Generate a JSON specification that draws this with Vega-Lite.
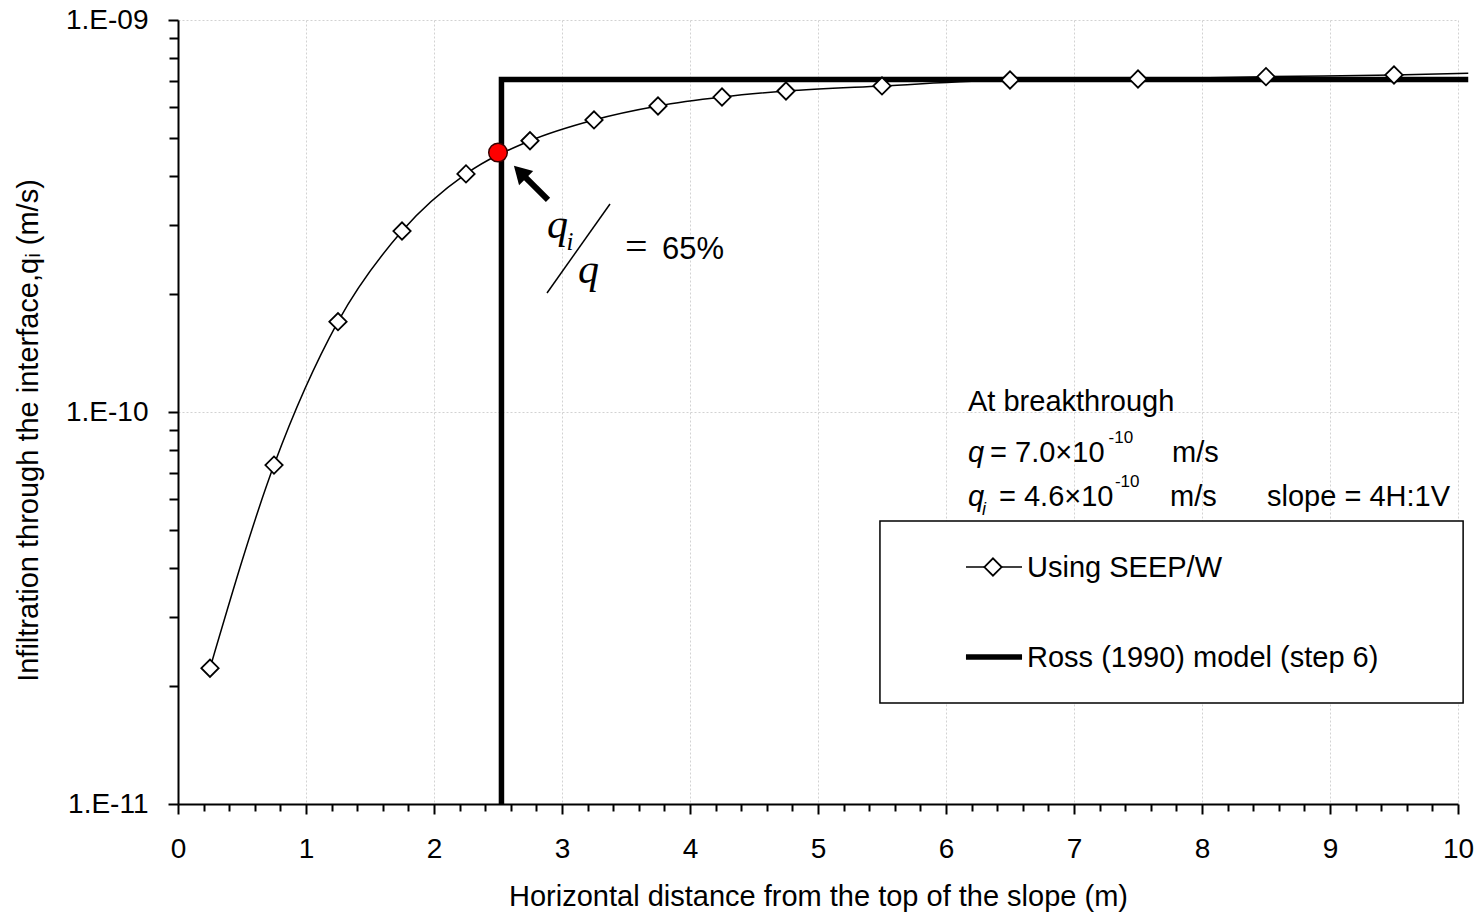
{
  "$schema": "https://vega.github.io/schema/vega-lite/v6.json",
  "width": 1280,
  "height": 784,
  "autosize": {"type": "none"},
  "padding": {"left": 178, "top": 20, "right": 21, "bottom": 114},
  "background": "white",
  "config": {"view": {"stroke": null}, "font": "Liberation Sans"},
  "datasets": {
    "seep": [
      {"x": 0.25, "q": 2.22e-11}, {"x": 0.75, "q": 7.32e-11}, {"x": 1.25, "q": 1.70e-10},
      {"x": 1.75, "q": 2.895e-10}, {"x": 2.25, "q": 4.05e-10}, {"x": 2.75, "q": 4.92e-10},
      {"x": 3.25, "q": 5.56e-10}, {"x": 3.75, "q": 6.035e-10}, {"x": 4.25, "q": 6.36e-10},
      {"x": 4.75, "q": 6.59e-10}, {"x": 5.5, "q": 6.79e-10}, {"x": 6.5, "q": 7.03e-10},
      {"x": 7.5, "q": 7.07e-10}, {"x": 8.5, "q": 7.17e-10}, {"x": 9.5, "q": 7.24e-10},
      {"x": 10.08, "q": 7.31e-10}
    ],
    "ross": [
      {"x": 2.527, "q": 1e-11, "o": 1}, {"x": 2.527, "q": 7.05e-10, "o": 2}, {"x": 10.08, "q": 7.05e-10, "o": 3}
    ],
    "red": [{"x": 2.5, "q": 4.59e-10}],
    "box": [{"x": 5.484, "x2": 10.04, "q": 1.81e-11, "q2": 5.27e-11}],
    "legSeep": [{"x": 6.156, "q": 4.023e-11}, {"x": 6.594, "q": 4.023e-11}],
    "legSeepPt": [{"x": 6.367, "q": 4.023e-11}],
    "legRoss": [{"x": 6.156, "q": 2.371e-11}, {"x": 6.594, "q": 2.371e-11}],
    "arrowShaft": [{"x": 2.8906, "q": 3.475e-10, "x2": 2.695, "q2": 4.025e-10}],
    "arrowHead": [{"x": 2.672, "q": 4.096e-10}],
    "slash": [{"x": 2.883, "q": 2.012e-10, "x2": 3.375, "q2": 3.394e-10}],
    "txtSans": [
      {"x": 6.172, "q": 1.0059e-10, "t": "At breakthrough"},
      {"x": 6.344, "q": 7.455e-11, "t": "= 7.0×10"},
      {"x": 7.766, "q": 7.455e-11, "t": "m/s"},
      {"x": 6.414, "q": 5.757e-11, "t": "= 4.6×10"},
      {"x": 7.75, "q": 5.757e-11, "t": "m/s"},
      {"x": 8.508, "q": 5.757e-11, "t": "slope = 4H:1V"},
      {"x": 6.633, "q": 3.794e-11, "t": "Using SEEP/W"},
      {"x": 6.633, "q": 2.237e-11, "t": "Ross (1990) model (step 6)"}
    ],
    "txtItal": [
      {"x": 6.172, "q": 7.455e-11, "t": "q"},
      {"x": 6.172, "q": 5.757e-11, "t": "q"}
    ],
    "txtSup": [
      {"x": 7.27, "q": 8.335e-11, "t": "-10"},
      {"x": 7.32, "q": 6.436e-11, "t": "-10"}
    ],
    "txtSub": [{"x": 6.281, "q": 5.461e-11, "t": "i"}],
    "fracQ": [
      {"x": 2.883, "q": 2.779e-10, "t": "q"},
      {"x": 3.125, "q": 2.134e-10, "t": "q"}
    ],
    "fracI": [{"x": 3.035, "q": 2.5896e-10, "t": "i"}],
    "fracEq": [{"x": 3.492, "q": 2.442e-10, "t": "="}],
    "fracPct": [{"x": 3.781, "q": 2.456e-10, "t": "65%"}]
  },
  "encoding": {
    "x": {
      "field": "x", "type": "quantitative",
      "scale": {"domain": [0, 10], "nice": false, "zero": false},
      "axis": {
        "values": [0,0.2,0.4,0.6,0.8,1,1.2,1.4,1.6,1.8,2,2.2,2.4,2.6,2.8,3,3.2,3.4,3.6,3.8,4,4.2,4.4,4.6,4.8,5,5.2,5.4,5.6,5.8,6,6.2,6.4,6.6,6.8,7,7.2,7.4,7.6,7.8,8,8.2,8.4,8.6,8.8,9,9.2,9.4,9.6,9.8,10],
        "title": "Horizontal distance from the top of the slope (m)",
        "titleFont": "Liberation Sans", "titleFontSize": 29, "titleFontWeight": "normal", "titleColor": "black",
        "titleX": 640, "titleY": 101, "titleBaseline": "alphabetic", "titleAlign": "center",
        "labelFont": "Liberation Sans", "labelFontSize": 28, "labelColor": "black",
        "labelPadding": 21, "labelFlush": false, "labelOverlap": false,
        "labelExpr": "abs(datum.value - round(datum.value)) < 1e-6 ? format(datum.value, 'd') : ''",
        "domainColor": "black", "domainWidth": 2,
        "tickColor": "black", "tickWidth": 2,
        "tickSize": {"condition": {"test": "abs(datum.value - round(datum.value)) < 1e-6", "value": 10}, "value": 7},
        "grid": true, "gridColor": "#d2d2d2", "gridDash": [2, 2], "gridWidth": 1,
        "gridOpacity": {"condition": {"test": "abs(datum.value - round(datum.value)) < 1e-6", "value": 1}, "value": 0}
      }
    },
    "y": {
      "field": "q", "type": "quantitative",
      "scale": {"type": "log", "domain": [1e-11, 1e-9], "nice": false},
      "axis": {
        "values": [1e-11,2e-11,3e-11,4e-11,5e-11,6e-11,7e-11,8e-11,9e-11,1e-10,2e-10,3e-10,4e-10,5e-10,6e-10,7e-10,8e-10,9e-10,1e-9],
        "title": "Infiltration through the interface,qᵢ (m/s)",
        "titleFont": "Liberation Sans", "titleFontSize": 29, "titleFontWeight": "normal", "titleColor": "black",
        "titleX": -150, "titleY": 410, "titleAngle": 270, "titleBaseline": "middle", "titleAlign": "center",
        "labelFont": "Liberation Sans", "labelFontSize": 28, "labelColor": "black",
        "labelPadding": 20, "labelFlush": false, "labelOverlap": false,
        "labelExpr": "abs(log(datum.value)/LN10 + 11) < 1e-6 ? '1.E-11' : abs(log(datum.value)/LN10 + 10) < 1e-6 ? '1.E-10' : abs(log(datum.value)/LN10 + 9) < 1e-6 ? '1.E-09' : ''",
        "domainColor": "black", "domainWidth": 2,
        "tickColor": "black", "tickWidth": 2,
        "tickSize": {"condition": {"test": "abs(log(datum.value)/LN10 - round(log(datum.value)/LN10)) < 1e-6", "value": 10}, "value": 9},
        "grid": true, "gridColor": "#d2d2d2", "gridDash": [2, 2], "gridWidth": 1,
        "gridOpacity": {"condition": {"test": "abs(log(datum.value)/LN10 - round(log(datum.value)/LN10)) < 1e-6", "value": 1}, "value": 0}
      }
    }
  },
  "layer": [
    {
      "data": {"name": "box"},
      "mark": {"type": "rect", "fill": "white", "stroke": "black", "strokeWidth": 1.5},
      "encoding": {"x2": {"field": "x2"}, "y2": {"field": "q2"}}
    },
    {
      "data": {"name": "seep"},
      "mark": {"type": "line", "interpolate": "monotone", "color": "black", "strokeWidth": 1.5}
    },
    {
      "data": {"name": "ross"},
      "mark": {"type": "line", "color": "black", "strokeWidth": 5.5, "strokeCap": "butt", "strokeJoin": "miter"},
      "encoding": {"order": {"field": "o", "type": "quantitative"}}
    },
    {
      "data": {"name": "seep"},
      "transform": [{"filter": "datum.x <= 10"}],
      "mark": {"type": "point", "shape": "diamond", "size": 300, "filled": true, "fill": "white", "stroke": "black", "strokeWidth": 1.8, "opacity": 1}
    },
    {
      "data": {"name": "red"},
      "mark": {"type": "point", "shape": "circle", "size": 346, "filled": true, "fill": "#ff0000", "stroke": "#3a0000", "strokeWidth": 1.5, "opacity": 1}
    },
    {
      "data": {"name": "arrowShaft"},
      "mark": {"type": "rule", "color": "black", "strokeWidth": 6},
      "encoding": {"x2": {"field": "x2"}, "y2": {"field": "q2"}}
    },
    {
      "data": {"name": "arrowHead"},
      "mark": {"type": "point", "shape": "triangle-up", "size": 400, "angle": 315, "filled": true, "color": "black", "opacity": 1}
    },
    {
      "data": {"name": "slash"},
      "mark": {"type": "rule", "color": "black", "strokeWidth": 1.5},
      "encoding": {"x2": {"field": "x2"}, "y2": {"field": "q2"}}
    },
    {
      "data": {"name": "legSeep"},
      "mark": {"type": "line", "color": "black", "strokeWidth": 1.5}
    },
    {
      "data": {"name": "legSeepPt"},
      "mark": {"type": "point", "shape": "diamond", "size": 300, "filled": true, "fill": "white", "stroke": "black", "strokeWidth": 1.8, "opacity": 1}
    },
    {
      "data": {"name": "legRoss"},
      "mark": {"type": "line", "color": "black", "strokeWidth": 5.5, "strokeCap": "butt"}
    },
    {
      "data": {"name": "txtSans"},
      "mark": {"type": "text", "font": "Liberation Sans", "fontSize": 29, "align": "left", "baseline": "alphabetic", "color": "black"},
      "encoding": {"text": {"field": "t"}}
    },
    {
      "data": {"name": "txtItal"},
      "mark": {"type": "text", "font": "Liberation Sans", "fontSize": 29, "fontStyle": "italic", "align": "left", "baseline": "alphabetic", "color": "black"},
      "encoding": {"text": {"field": "t"}}
    },
    {
      "data": {"name": "txtSup"},
      "mark": {"type": "text", "font": "Liberation Sans", "fontSize": 17, "align": "left", "baseline": "alphabetic", "color": "black"},
      "encoding": {"text": {"field": "t"}}
    },
    {
      "data": {"name": "txtSub"},
      "mark": {"type": "text", "font": "Liberation Sans", "fontSize": 18, "fontStyle": "italic", "align": "left", "baseline": "alphabetic", "color": "black"},
      "encoding": {"text": {"field": "t"}}
    },
    {
      "data": {"name": "fracQ"},
      "mark": {"type": "text", "font": "Liberation Serif", "fontSize": 42, "fontStyle": "italic", "align": "left", "baseline": "alphabetic", "color": "black"},
      "encoding": {"text": {"field": "t"}}
    },
    {
      "data": {"name": "fracI"},
      "mark": {"type": "text", "font": "Liberation Serif", "fontSize": 25, "fontStyle": "italic", "align": "left", "baseline": "alphabetic", "color": "black"},
      "encoding": {"text": {"field": "t"}}
    },
    {
      "data": {"name": "fracEq"},
      "mark": {"type": "text", "font": "Liberation Serif", "fontSize": 40, "align": "left", "baseline": "alphabetic", "color": "black"},
      "encoding": {"text": {"field": "t"}}
    },
    {
      "data": {"name": "fracPct"},
      "mark": {"type": "text", "font": "Liberation Sans", "fontSize": 31, "align": "left", "baseline": "alphabetic", "color": "black"},
      "encoding": {"text": {"field": "t"}}
    }
  ]
}
